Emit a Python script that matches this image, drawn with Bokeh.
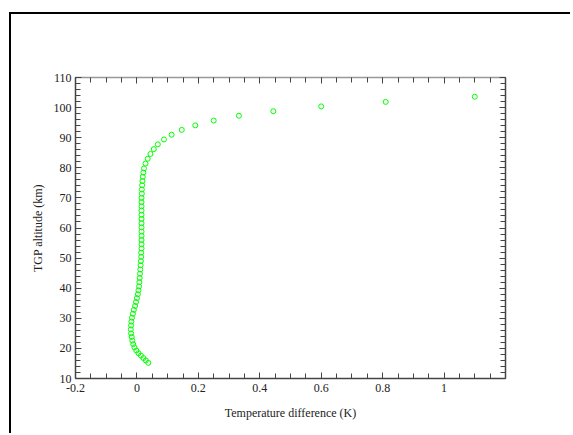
from bokeh.plotting import figure
from bokeh.models import (LinearAxis, FixedTicker, CustomJSTickFormatter, Range1d,
                          ColumnDataSource)
from bokeh.embed import file_html
from bokeh.resources import INLINE

altitude = [15.2, 16.0, 16.8, 17.6, 18.4, 19.3, 20.3, 21.4, 22.6, 23.8, 25.0, 26.3,
            27.6, 28.9, 30.2, 31.5, 32.8, 34.1, 35.4, 36.7, 38.0, 39.3, 40.6, 42.0,
            43.4, 44.8, 46.2, 47.6, 49.0, 50.4, 51.8, 53.2, 54.6, 56.0, 57.4, 58.8,
            60.2, 61.6, 63.0, 64.4, 65.8, 67.2, 68.6, 70.0, 71.4, 72.8, 74.2, 75.6,
            77.0, 78.4, 79.8, 81.4, 83.0, 84.6, 86.2, 87.8, 89.4, 91.0, 92.6, 94.1,
            95.7, 97.3, 98.8, 100.4, 101.9, 103.6]
temp_diff = [0.037, 0.029, 0.021, 0.013, 0.005, -0.002, -0.008, -0.012, -0.015, -0.017,
             -0.019, -0.020, -0.019, -0.018, -0.016, -0.013, -0.010, -0.006, -0.003,
             0.000, 0.003, 0.005, 0.007, 0.008, 0.009, 0.010, 0.011, 0.012, 0.013,
             0.014, 0.014, 0.015, 0.015, 0.015, 0.015, 0.015, 0.015, 0.015, 0.015,
             0.015, 0.015, 0.015, 0.015, 0.015, 0.016, 0.016, 0.017, 0.018, 0.019,
             0.021, 0.023, 0.028, 0.035, 0.044, 0.055, 0.068, 0.088, 0.113, 0.146,
             0.19, 0.25, 0.332, 0.444, 0.60, 0.81, 1.10]

x_major = [-0.2, 0.0, 0.2, 0.4, 0.6, 0.8, 1.0]
x_minor = [round(-0.2 + 0.05 * i, 2) for i in range(29)]
y_major = [10, 20, 30, 40, 50, 60, 70, 80, 90, 100, 110]
y_minor = list(range(10, 111, 2))

x_title = "Temperature difference (K)"
y_title = "TGP altitude (km)"

FONT = "Liberation Serif"

p = figure(width=561, height=421, output_backend="svg", toolbar_location=None,
           x_range=Range1d(-0.2, 1.2), y_range=Range1d(10, 110),
           x_axis_type=None, y_axis_type=None,
           min_border_left=64, min_border_top=63, min_border_right=67,
           min_border_bottom=57)
p.styles = {"margin-left": "9px", "margin-top": "12px",
            "border-left": "2px solid black", "border-top": "2px solid black"}
p.outline_line_color = None
p.background_fill_color = "white"
p.border_fill_color = "white"

xt = FixedTicker(ticks=x_major, minor_ticks=x_minor)
yt = FixedTicker(ticks=y_major, minor_ticks=y_minor)
xfmt = CustomJSTickFormatter(code="return String(Math.round(tick*10)/10);")


def style_axis(ax, color, labels=True):
    ax.axis_line_color = color
    ax.axis_line_width = 1.5
    ax.major_tick_line_color = "#444444"
    ax.minor_tick_line_color = "#444444"
    ax.major_tick_in = 6
    ax.major_tick_out = 0
    ax.minor_tick_in = 5
    ax.minor_tick_out = 0
    ax.major_label_text_font = FONT
    ax.major_label_text_font_size = "12px"
    ax.major_label_text_color = "#222222" if labels else None
    ax.axis_label_text_font = FONT
    ax.axis_label_text_font_size = "12px"
    ax.axis_label_text_font_style = "normal"
    ax.axis_label_text_color = "#222222"


xb = LinearAxis(ticker=xt, formatter=xfmt, axis_label=x_title)
style_axis(xb, "#444444")
xb.major_label_standoff = 5
xb.axis_label_standoff = 11
p.add_layout(xb, "below")

xa = LinearAxis(ticker=xt, formatter=xfmt)
style_axis(xa, "#999999", labels=False)
p.add_layout(xa, "above")

yl = LinearAxis(ticker=yt, axis_label=y_title)
style_axis(yl, "#444444")
yl.major_label_standoff = 4
yl.axis_label_standoff = 6
p.add_layout(yl, "left")

yr = LinearAxis(ticker=yt)
style_axis(yr, "#444444", labels=False)
p.add_layout(yr, "right")

p.xgrid.ticker = FixedTicker(ticks=x_major)
p.ygrid.ticker = FixedTicker(ticks=y_major)
for g in (p.xgrid, p.ygrid):
    g.grid_line_color = "#777777"
    g.grid_line_dash = "1 2"
    g.grid_line_width = 1

src = ColumnDataSource(data=dict(x=temp_diff, y=altitude))
p.scatter("x", "y", source=src, marker="circle", size=5, fill_color=None,
          line_color="#00ff00", line_width=1)

open("out.html", "w").write(file_html(p, INLINE))
